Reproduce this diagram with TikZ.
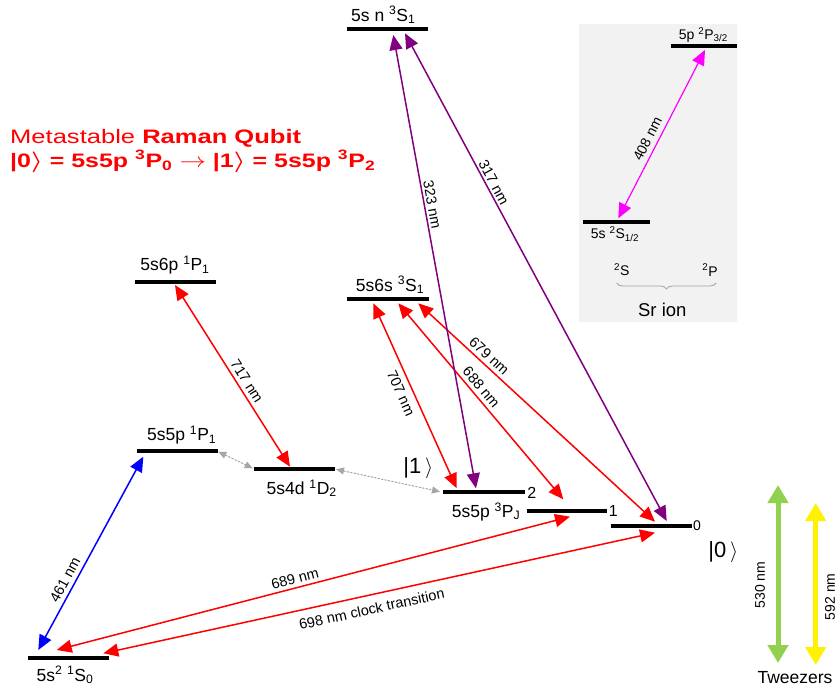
\documentclass[tikz,border=0pt]{standalone}
\usepackage{fontspec}
\setmainfont{Liberation Sans}
\usetikzlibrary{arrows.meta,decorations.pathreplacing}
\definecolor{ionbg}{HTML}{F2F2F2}
\definecolor{purp}{HTML}{800080}
\definecolor{tgreen}{HTML}{92D050}
\definecolor{dotgray}{HTML}{A6A6A6}
\definecolor{brgray}{HTML}{A0A0A0}
\definecolor{magn}{HTML}{FF00FF}
\newcommand\lsup[1]{\textsuperscript{#1}}
\newcommand\lsub[1]{\textsubscript{#1}}
\begin{document}
\begin{tikzpicture}[x=1pt,y=-1pt,
  bar/.style={line width=4pt},
  lab/.style={font=\fontsize{17.5}{20}\selectfont, inner sep=0pt},
  wl/.style={font=\fontsize{14.5}{17}\selectfont, inner sep=0pt},
  sl/.style={font=\fontsize{14}{16}\selectfont, inner sep=0pt},
  ket/.style={font=\fontsize{22}{24}\selectfont, inner sep=0pt},
  darr/.style={line width=1.5pt, {Triangle[width=13pt,length=15pt]}-{Triangle[width=13pt,length=15pt]}},
  dotarr/.style={draw=dotgray, line width=1pt, dash pattern=on 2pt off 1.5pt, {Triangle[width=7pt,length=8pt]}-{Triangle[width=7pt,length=8pt]}},
  tw/.style={line width=5pt, {Triangle[width=20pt,length=18pt]}-{Triangle[width=20pt,length=18pt]}},
]
\useasboundingbox (0,0) rectangle (840,687);

% ion box
\fill[ionbg] (579,24) rectangle (737,322);

% level bars
\draw[bar] (346.7,29.3) -- (428.3,29.3);
\draw[bar] (135,282) -- (216,282);
\draw[bar] (346.7,299.3) -- (429,299.3);
\draw[bar] (136.7,450.7) -- (217.7,450.7);
\draw[bar] (254.3,469.3) -- (335,469.3);
\draw[bar] (443.3,492.3) -- (525,492.3);
\draw[bar] (526.7,510.7) -- (607.3,510.7);
\draw[bar] (611,526) -- (691.7,526);
\draw[bar] (28.3,658.3) -- (109.3,658.3);
\draw[bar] (671,46) -- (737,46);
\draw[bar] (583.3,222.3) -- (650,222.3);

% arrow end points
\coordinate (nSa) at (393.3,35);
\coordinate (nSb) at (405,33.3);
\coordinate (S6p) at (175,285);
\coordinate (S6sa) at (373.3,303.3);
\coordinate (S6sb) at (398.3,303.3);
\coordinate (S6sc) at (418.3,303.3);
\coordinate (P1a) at (143.3,456.7);
\coordinate (P1r) at (218.3,451.7);
\coordinate (D2l) at (252.7,468.3);
\coordinate (D2t) at (290,466.7);
\coordinate (D2r) at (336,469.3);
\coordinate (P2l) at (440,491.7);
\coordinate (P2a) at (456.7,488.3);
\coordinate (P2b) at (476,488.3);
\coordinate (Pja) at (563.3,499.3);
\coordinate (Pjb) at (570,516.7);
\coordinate (P0a) at (655,521.7);
\coordinate (P0b) at (666.7,521);
\coordinate (P0c) at (655,532.7);
\coordinate (S0a) at (38.3,650);
\coordinate (S0b) at (56.7,650);
\coordinate (S0c) at (103.3,653.3);
\coordinate (ionP) at (705,50);
\coordinate (ionS) at (618.3,218.3);
\coordinate (gT) at (778,485);
\coordinate (gB) at (778,663);
\coordinate (yT) at (815.7,503);
\coordinate (yB) at (815.7,665);

% transitions
\draw[darr, draw=red, fill=red] (S6p) -- (D2t);
\draw[darr, draw=blue, fill=blue] (P1a) -- (S0a);
\draw[darr, draw=red, fill=red] (S6sa) -- (P2a);
\draw[darr, draw=red, fill=red] (S6sb) -- (Pja);
\draw[darr, draw=red, fill=red] (S6sc) -- (P0a);
\draw[darr, draw=purp, fill=purp] (nSa) -- (P2b);
\draw[darr, draw=purp, fill=purp] (nSb) -- (P0b);
\draw[darr, draw=red, fill=red] (Pjb) -- (S0b);
\draw[darr, draw=red, fill=red] (P0c) -- (S0c);
\draw[darr, draw=magn, fill=magn, line width=1.2pt] (ionS) -- (ionP);
\draw[dotarr, fill=dotgray] (P1r) -- (D2l);
\draw[dotarr, fill=dotgray] (D2r) -- (P2l);
\draw[tw, draw=tgreen, fill=tgreen] (gT) -- (gB);
\draw[tw, draw=yellow, fill=yellow] (yT) -- (yB);

% level labels
\node[lab] (LnS) at (383.3,15) {5s n \lsup{3}S\lsub{1}};
\node[lab] (L6p) at (175,265) {5s6p \lsup{1}P\lsub{1}};
\node[lab] (L6s) at (390,285) {5s6s \lsup{3}S\lsub{1}};
\node[lab] (L1P1) at (181.7,435) {5s5p \lsup{1}P\lsub{1}};
\node[lab] (L1D2) at (301.7,488.3) {5s4d \lsup{1}D\lsub{2}};
\node[lab] (L3PJ) at (486,511.7) {5s5p \lsup{3}P\lsub{J}};
\node[lab] (L1S0) at (65,675) {5s\lsup{2} \lsup{1}S\lsub{0}};
\node[sl, font=\fontsize{16}{18}\selectfont] (J2) at (531.7,493.3) {2};
\node[sl, font=\fontsize{16}{18}\selectfont] (J1) at (613.3,511) {1};
\node[sl] (J0) at (697,526) {0};
\node[ket] (k1) at (418.3,468.3) {|1\,$\rangle$};
\node[ket] (k0) at (723.3,552) {|0\,$\rangle$};

% ion labels
\node[sl] (LiP) at (703.3,35) {5p \lsup{2}P\lsub{3/2}};
\node[sl] (LiS) at (615,234) {5s \lsup{2}S\lsub{1/2}};
\node[sl] (L2S) at (621.7,270) {\lsup{2}S};
\node[sl] (L2P) at (710,270) {\lsup{2}P};
\draw[brgray, line width=0.8pt, decorate, decoration={brace, mirror, amplitude=6pt}] (616.7,283) -- (716,283);
\node[lab, font=\fontsize{18.5}{21}\selectfont] (Sr) at (662.3,310) {Sr ion};

% wavelength labels
\node[wl, rotate=-57.7] (w717) at (247,381) {717 nm};
\node[wl, rotate=61.5] (w461) at (65,580) {461 nm};
\node[wl, rotate=-65.7] (w707) at (401,393) {707 nm};
\node[wl, rotate=-49.9] (w688) at (481.3,387.2) {688 nm};
\node[wl, rotate=-42.7] (w679) at (489.2,355.8) {679 nm};
\node[wl, rotate=-79.7] (w323) at (432.3,204.7) {323 nm};
\node[wl, rotate=-61.8] (w317) at (493.9,182.1) {317 nm};
\node[wl, rotate=14.6] (w689) at (295,578.3) {689 nm};
\node[wl, rotate=12.3] (w698) at (371.7,609) {698 nm clock transition};
\node[sl, rotate=62.8] (w408) at (647.5,139) {408 nm};
\node[sl, rotate=90] (w530) at (760,585) {530 nm};
\node[sl, rotate=90] (w592) at (830,596.7) {592 nm};
\node[lab, font=\fontsize{17.5}{20}\selectfont] (tw) at (795,677.5) {Tweezers};

% title
\node[inner sep=0pt, anchor=base west, text=red, font=\fontsize{19.5}{22}\selectfont] (t1) at (10,143.3)
  {\scalebox{1.31}[1]{Metastable \textbf{Raman Qubit}}};
\node[inner sep=0pt, anchor=base west, text=red, font=\fontsize{19.5}{22}\selectfont\bfseries] (t2) at (10,167.3)
  {\scalebox{1.28}[1]{|0\boldmath$\rangle$ = 5s5p \lsup{3}P\lsub{0} \unboldmath$\rightarrow$ |1\boldmath$\rangle$ = 5s5p \lsup{3}P\lsub{2}}};
\end{tikzpicture}
\end{document}
